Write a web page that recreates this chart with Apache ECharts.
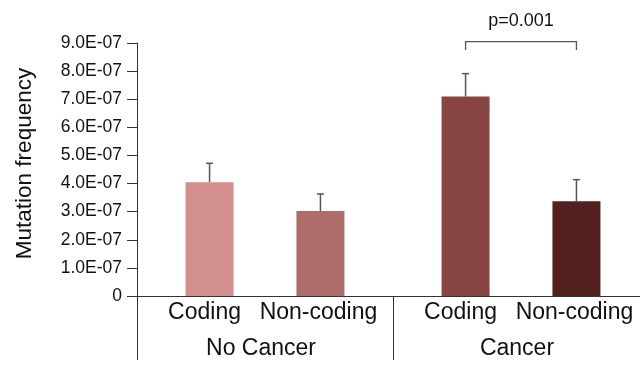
<!DOCTYPE html>
<html>
<head>
<meta charset="utf-8">
<script src="https://cdn.jsdelivr.net/npm/echarts@6/dist/echarts.min.js"></script>
<style>html,body{margin:0;padding:0;background:#fff}#c{width:640px;height:365px}</style>
</head>
<body>
<div id="c"></div>
<script>
// Data
const groups = ['No Cancer', 'Cancer'];
const subTypes = ['Coding', 'Non-coding'];
const codingValues = [4.05e-7, 7.1e-7];
const codingErrors = [0.67e-7, 0.81e-7];
const nonCodingValues = [3.02e-7, 3.37e-7];
const nonCodingErrors = [0.61e-7, 0.77e-7];
const codingColors = ['#d38f8c', '#874441'];
const nonCodingColors = ['#ad6e6b', '#52201e'];
const yTicks = { min: 0, max: 9e-7, interval: 1e-7 };
const sigGroupIndex = 1;
const sigBracketTop = 9.05e-7;
const sigBracketEnd = 8.75e-7;
const sigText = 'p=0.001';

const FONT = 'Liberation Sans, Arial, sans-serif';
const BAR_W = 48;
const BAR_GAP = 1.31; // ratio
const halfOffset = BAR_W * (1 + BAR_GAP) / 2;

function fmtExp(v) {
  if (Math.abs(v) < 1e-15) return '0';
  const s = v.toExponential(1);
  const parts = s.split('e');
  const e = parseInt(parts[1], 10);
  const sign = e < 0 ? '-' : '+';
  return parts[0] + 'E' + sign + String(Math.abs(e)).padStart(2, '0');
}

const errData = [];
for (let i = 0; i < groups.length; i++) {
  errData.push([i, 0, codingValues[i], codingErrors[i]]);
  errData.push([i, 1, nonCodingValues[i], nonCodingErrors[i]]);
}

const chart = echarts.init(document.getElementById('c'), null, { renderer: 'canvas' });
chart.setOption({
  animation: false,
  textStyle: { fontFamily: FONT },
  grid: { left: 137, top: 43, bottom: 69, width: 512, containLabel: false, outerBoundsMode: 'none' },
  xAxis: {
    type: 'category',
    data: groups,
    axisLine: { show: true, lineStyle: { color: '#333', width: 1 } },
    axisTick: { show: true, length: 64, interval: 0, lineStyle: { color: '#333', width: 1 } },
    axisLabel: { margin: 41, fontSize: 23, color: '#111', fontFamily: FONT, padding: [0, 8, 0, 0] }
  },
  yAxis: {
    type: 'value',
    min: yTicks.min, max: yTicks.max, interval: yTicks.interval,
    name: 'Mutation frequency',
    nameLocation: 'middle',
    nameGap: 101,
    nameTextStyle: { fontSize: 22.5, color: '#111', fontFamily: FONT, padding: [0, 0, 0, 12] },
    axisLine: { show: true, lineStyle: { color: '#333', width: 1 } },
    axisTick: { show: true, length: 10, lineStyle: { color: '#333', width: 1 } },
    splitLine: { show: false },
    axisLabel: { formatter: fmtExp, fontSize: 17.5, color: '#111', margin: 15, fontFamily: FONT }
  },
  series: [
    {
      name: subTypes[0], type: 'bar', barWidth: BAR_W, barGap: (BAR_GAP * 100) + '%',
      data: codingValues.map((v, i) => ({ value: v, itemStyle: { color: codingColors[i] } })),
      label: { show: true, position: 'bottom', distance: 5, offset: [-5, 0], formatter: subTypes[0], fontSize: 23, color: '#111', fontFamily: FONT }
    },
    {
      name: subTypes[1], type: 'bar', barWidth: BAR_W,
      data: nonCodingValues.map((v, i) => ({ value: v, itemStyle: { color: nonCodingColors[i] } })),
      label: { show: true, position: 'bottom', distance: 5, offset: [-2, 0], formatter: subTypes[1], fontSize: 23, color: '#111', fontFamily: FONT }
    },
    {
      type: 'custom',
      data: errData,
      encode: { x: 0, y: 2 },
      z: 5,
      renderItem: function (params, api) {
        const cat = api.value(0), s = api.value(1), v = api.value(2), e = api.value(3);
        const base = api.coord([cat, v]);
        const top = api.coord([cat, v + e]);
        const x = base[0] + (s === 0 ? -halfOffset : halfOffset);
        const st = { stroke: '#555', lineWidth: 1.5 };
        return {
          type: 'group',
          children: [
            { type: 'line', shape: { x1: x, y1: base[1], x2: x, y2: top[1] }, style: st },
            { type: 'line', shape: { x1: x - 3.5, y1: top[1], x2: x + 3.5, y2: top[1] }, style: st }
          ]
        };
      }
    },
    {
      type: 'custom',
      data: [[sigGroupIndex, sigBracketTop, sigBracketEnd]],
      encode: { x: 0, y: 1 },
      z: 5,
      renderItem: function (params, api) {
        const cat = api.value(0);
        const top = api.coord([cat, api.value(1)]);
        const end = api.coord([cat, api.value(2)]);
        const xl = top[0] - halfOffset, xr = top[0] + halfOffset;
        const st = { stroke: '#555', lineWidth: 1.3, fill: 'none' };
        return {
          type: 'group',
          children: [
            { type: 'polyline', shape: { points: [[xl, end[1]], [xl, top[1]], [xr, top[1]], [xr, end[1]]] }, style: st },
            { type: 'text', x: top[0], y: top[1] - 21, style: { text: sigText, fontSize: 18, fill: '#111', fontFamily: FONT, align: 'center', verticalAlign: 'middle' } }
          ]
        };
      }
    }
  ]
});
</script>
</body>
</html>
